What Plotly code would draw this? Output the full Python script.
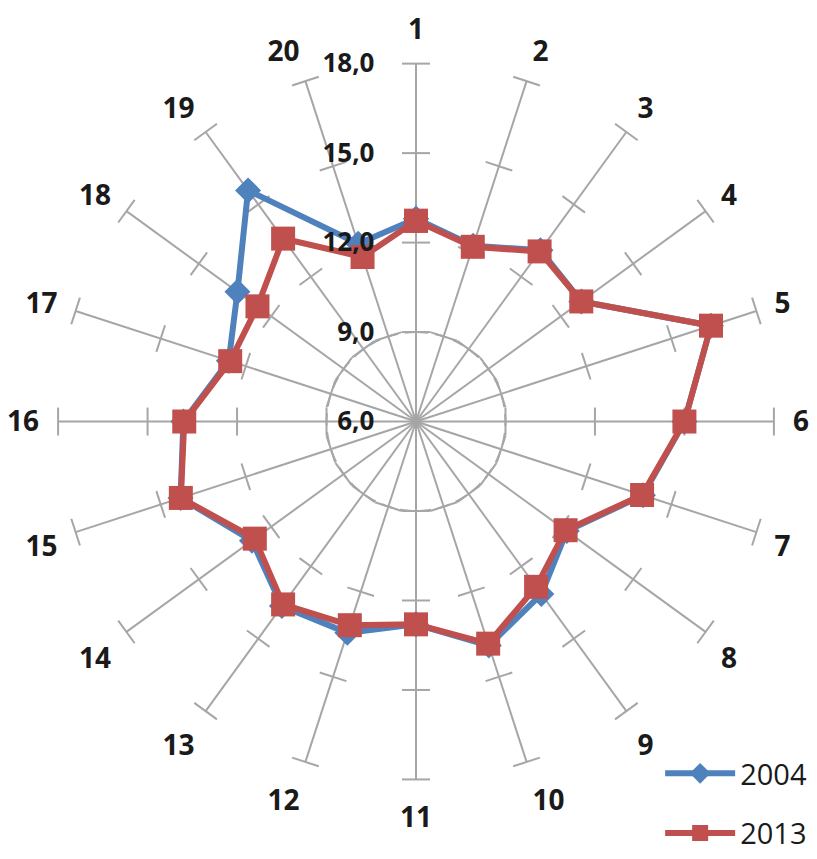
import plotly.graph_objects as go

categories = [str(i) for i in range(1, 21)]
values_2004 = [12.8, 12.2, 13.1, 12.85, 16.4, 15.0, 14.0, 12.25, 13.15, 13.9,
               12.8, 13.45, 13.65, 12.8, 14.3, 13.8, 12.6, 13.4, 15.58, 12.27]
values_2013 = [12.73, 12.16, 13.05, 12.85, 16.4, 15.0, 13.97, 12.2, 12.85, 13.83,
               12.8, 13.18, 13.58, 12.68, 14.29, 13.77, 12.55, 12.57, 13.58, 11.8]
radial_ticks = [6, 9, 12, 15, 18]

n = len(categories)
theta = [i * 360 / n for i in range(n)]
GRID = "#A6A6A6"
BLUE = "#4F81BD"
RED = "#C0504D"
FONT = "Open Sans"
TXT = "#1a1a1a"

fig = go.Figure()

# dashed ring at 9.0
ring_theta = [t / 2 for t in range(0, 721)]
fig.add_trace(go.Scatterpolar(r=[9] * len(ring_theta), theta=ring_theta, mode="lines",
                              line=dict(color=GRID, width=2, dash="12px,7px"),
                              showlegend=False, hoverinfo="skip"))

# tick marks across each spoke
tr, tt, ta = [], [], []
for t in theta:
    for rv in radial_ticks[1:]:
        tr.append(rv)
        tt.append(t)
        ta.append(t)
fig.add_trace(go.Scatterpolar(r=tr, theta=tt, mode="markers",
                              marker=dict(symbol="line-ew", size=20, angle=ta,
                                          line=dict(color=GRID, width=2)),
                              showlegend=False, hoverinfo="skip"))

fig.add_trace(go.Scatterpolar(r=values_2004 + values_2004[:1], theta=theta + theta[:1],
                              mode="lines+markers", name="2004",
                              line=dict(color=BLUE, width=6),
                              marker=dict(symbol="diamond", size=20, color=BLUE),
                              legend="legend"))
fig.add_trace(go.Scatterpolar(r=values_2013 + values_2013[:1], theta=theta + theta[:1],
                              mode="lines+markers", name="2013",
                              line=dict(color=RED, width=6),
                              marker=dict(symbol="square", size=24, color=RED),
                              legend="legend2"))

legend_style = dict(x=0.808, yanchor="middle", itemwidth=70,
                    font=dict(family=FONT, size=29, color=TXT), bgcolor="rgba(0,0,0,0)")

fig.update_layout(
    width=817, height=859,
    margin=dict(l=0, r=0, t=0, b=0),
    paper_bgcolor="white",
    separators=", ",
    font=dict(family=FONT, color=TXT),
    polar=dict(
        domain=dict(x=[56 / 817, 776 / 817], y=[75 / 859, 795 / 859]),
        bgcolor="white",
        angularaxis=dict(
            rotation=90, direction="clockwise", thetaunit="degrees",
            tickmode="array", tickvals=theta, ticktext=categories,
            showgrid=True, gridcolor=GRID, gridwidth=2,
            showline=False, ticks="outside", ticklen=13, tickcolor="rgba(0,0,0,0)",
            tickfont=dict(family=FONT, size=28, color=TXT, weight="bold"),
        ),
        radialaxis=dict(
            range=[6, 18], angle=90, tickangle=90, side="counterclockwise",
            tickmode="array", tickvals=radial_ticks, tickformat=".1f",
            showgrid=False, showline=False,
            ticks="outside", ticklen=32, tickcolor="rgba(0,0,0,0)",
            tickfont=dict(family=FONT, size=26, color=TXT, weight="bold"),
        ),
    ),
    legend=dict(y=(859 - 778) / 859, **legend_style),
    legend2=dict(y=(859 - 838) / 859, **legend_style),
)

fig.write_html("out.html", config={"displayModeBar": False},
               post_script="document.body.style.margin='0';document.body.style.padding='0';")
